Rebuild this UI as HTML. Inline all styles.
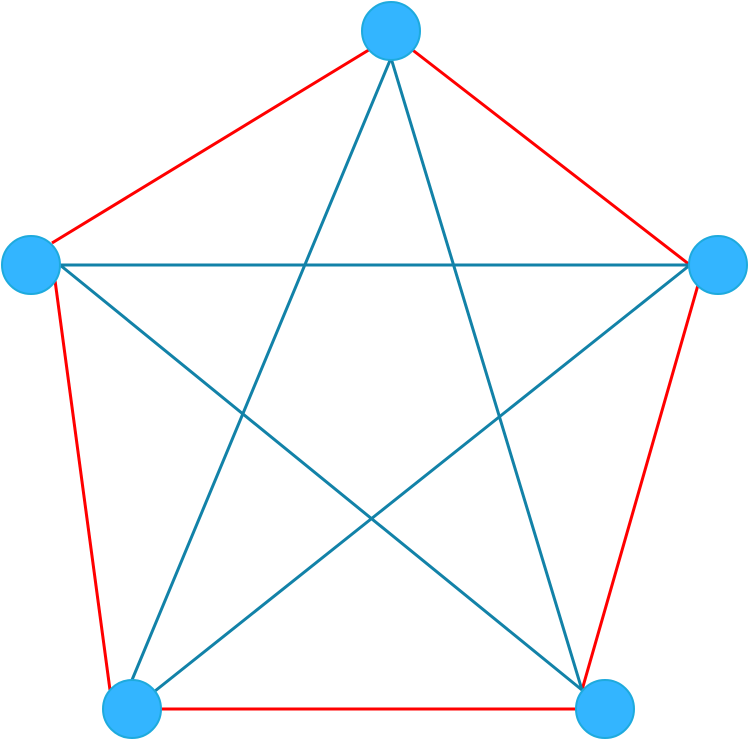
<!DOCTYPE html>
<html><head><style>html,body{margin:0;padding:0;background:#fff;}svg{display:block}</style></head>
<body>
<svg width="749" height="740" viewBox="0 0 749 740" xmlns="http://www.w3.org/2000/svg">
<g stroke-width="3" fill="none">
<line x1="372" y1="48" x2="52" y2="243" stroke="#ff0000"/>
<line x1="410" y1="48" x2="690" y2="265" stroke="#ff0000"/>
<line x1="52" y1="258" x2="110" y2="690" stroke="#ff0000"/>
<line x1="698" y1="285" x2="582" y2="690" stroke="#ff0000"/>
<line x1="160" y1="709" x2="577" y2="709" stroke="#ff0000"/>
<line x1="391" y1="58" x2="132" y2="680" stroke="#1282a8"/>
<line x1="391" y1="58" x2="582" y2="690" stroke="#1282a8"/>
<line x1="60" y1="265" x2="690" y2="265" stroke="#1282a8"/>
<line x1="60" y1="265" x2="582" y2="690" stroke="#1282a8"/>
<line x1="690" y1="265" x2="150" y2="695" stroke="#1282a8"/>
</g>
<g fill="#33b5ff" stroke="#1eaadd" stroke-width="2">
<circle cx="391" cy="31" r="29"/>
<circle cx="31" cy="265" r="29"/>
<circle cx="718" cy="265" r="29"/>
<circle cx="132" cy="709" r="29"/>
<circle cx="605" cy="709" r="29"/>
</g>
</svg>
</body></html>
